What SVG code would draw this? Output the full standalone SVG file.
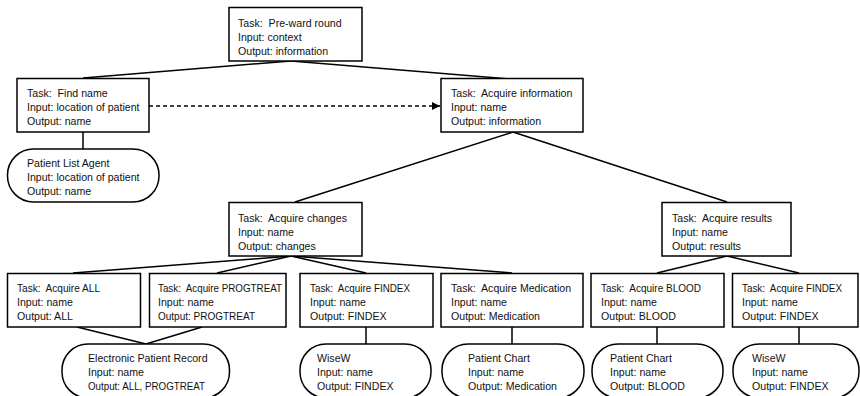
<svg xmlns="http://www.w3.org/2000/svg" width="860" height="396" viewBox="0 0 860 396">
<style>
.box{fill:#fff;stroke:#000;stroke-width:1.5}
.ag{fill:#fff;stroke:#000;stroke-width:1.5}
.c{stroke:#000;stroke-width:1.5;fill:none}
.d{stroke:#000;stroke-width:1.3;fill:none;stroke-dasharray:4 3}
text{font-family:"Liberation Sans",Arial,sans-serif;font-size:10.6px;fill:#111;white-space:pre}
</style>
<defs>
<marker id="arr" viewBox="0 0 8 8" refX="8" refY="4" markerWidth="8" markerHeight="8" markerUnits="userSpaceOnUse" orient="auto">
<path d="M0,0 L8,4 L0,8 Z" fill="#000"/>
</marker>
</defs>
<g id="connectors">
<line class="c" x1="291" y1="61" x2="83" y2="78"/>
<line class="c" x1="291" y1="61" x2="511" y2="79"/>
<line class="d" x1="149" y1="106" x2="440" y2="106" marker-end="url(#arr)"/>
<line class="c" x1="83" y1="132" x2="83" y2="149"/>
<line class="c" x1="513" y1="132" x2="295" y2="202"/>
<line class="c" x1="513" y1="132" x2="727" y2="202"/>
<line class="c" x1="291" y1="256" x2="73" y2="273"/>
<line class="c" x1="291" y1="256" x2="217" y2="273"/>
<line class="c" x1="291" y1="256" x2="366" y2="273"/>
<line class="c" x1="291" y1="256" x2="512" y2="273"/>
<line class="c" x1="727" y1="256" x2="657" y2="273"/>
<line class="c" x1="727" y1="256" x2="799" y2="273"/>
<line class="c" x1="77" y1="327" x2="146" y2="344"/>
<line class="c" x1="202" y1="327" x2="146" y2="344"/>
<line class="c" x1="366" y1="327" x2="366" y2="344"/>
<line class="c" x1="512" y1="327" x2="512" y2="344"/>
<line class="c" x1="657" y1="327" x2="657" y2="344"/>
<line class="c" x1="799" y1="327" x2="799" y2="344"/>
</g>
<g id="n-preward">
<rect class="box" x="229" y="7.5" width="133" height="53.5"/>
<text x="238" y="27">Task:  Pre-ward round</text>
<text x="238" y="41">Input: context</text>
<text x="238" y="55">Output: information</text>
</g>
<g id="n-findname">
<rect class="box" x="17" y="78.5" width="132" height="53.5"/>
<text x="27" y="97">Task:  Find name</text>
<text x="27" y="111">Input: location of patient</text>
<text x="27" y="125">Output: name</text>
</g>
<g id="n-acqinfo">
<rect class="box" x="441" y="78.5" width="142" height="53.5"/>
<text x="451" y="97">Task:  Acquire information</text>
<text x="451" y="111">Input: name</text>
<text x="451" y="125">Output: information</text>
</g>
<g id="a-patientlist">
<rect class="ag" x="7.5" y="149" width="151.5" height="53" rx="26" ry="26"/>
<text x="27" y="167">Patient List Agent</text>
<text x="27" y="181">Input: location of patient</text>
<text x="27" y="195">Output: name</text>
</g>
<g id="n-acqchanges">
<rect class="box" x="229" y="202.5" width="133" height="53.5"/>
<text x="238" y="222">Task:  Acquire changes</text>
<text x="238" y="236">Input: name</text>
<text x="238" y="250">Output: changes</text>
</g>
<g id="n-acqresults">
<rect class="box" x="662" y="202.5" width="129" height="53.5"/>
<text x="672" y="222">Task:  Acquire results</text>
<text x="672" y="236">Input: name</text>
<text x="672" y="250">Output: results</text>
</g>
<g id="n-all">
<rect class="box" x="7.5" y="273.5" width="133" height="53.5"/>
<text x="17" y="292" textLength="83" lengthAdjust="spacingAndGlyphs">Task:  Acquire ALL</text>
<text x="17" y="306">Input: name</text>
<text x="17" y="320">Output: ALL</text>
</g>
<g id="n-progtreat">
<rect class="box" x="149.5" y="273.5" width="136.5" height="53.5"/>
<text x="158" y="292" textLength="124" lengthAdjust="spacingAndGlyphs">Task:  Acquire PROGTREAT</text>
<text x="158" y="306">Input: name</text>
<text x="158" y="320" textLength="97" lengthAdjust="spacingAndGlyphs">Output: PROGTREAT</text>
</g>
<g id="n-findex1">
<rect class="box" x="300" y="273.5" width="133" height="53.5"/>
<text x="310" y="292" textLength="100" lengthAdjust="spacingAndGlyphs">Task:  Acquire FINDEX</text>
<text x="310" y="306">Input: name</text>
<text x="310" y="320">Output: FINDEX</text>
</g>
<g id="n-medication">
<rect class="box" x="441" y="273.5" width="142" height="53.5"/>
<text x="451" y="292">Task:  Acquire Medication</text>
<text x="451" y="306">Input: name</text>
<text x="451" y="320">Output: Medication</text>
</g>
<g id="n-blood">
<rect class="box" x="591" y="273.5" width="133" height="53.5"/>
<text x="601" y="292" textLength="100" lengthAdjust="spacingAndGlyphs">Task:  Acquire BLOOD</text>
<text x="601" y="306">Input: name</text>
<text x="601" y="320">Output: BLOOD</text>
</g>
<g id="n-findex2">
<rect class="box" x="732.5" y="273.5" width="125.5" height="53.5"/>
<text x="742" y="292" textLength="100" lengthAdjust="spacingAndGlyphs">Task:  Acquire FINDEX</text>
<text x="742" y="306">Input: name</text>
<text x="742" y="320">Output: FINDEX</text>
</g>
<g id="a-epr">
<rect class="ag" x="62" y="344" width="167.5" height="54" rx="26" ry="26"/>
<text x="88" y="362">Electronic Patient Record</text>
<text x="88" y="376">Input: name</text>
<text x="88" y="390" textLength="117" lengthAdjust="spacingAndGlyphs">Output: ALL, PROGTREAT</text>
</g>
<g id="a-wisew1">
<rect class="ag" x="300" y="344" width="131" height="54" rx="26" ry="26"/>
<text x="317" y="362">WiseW</text>
<text x="317" y="376">Input: name</text>
<text x="317" y="390">Output: FINDEX</text>
</g>
<g id="a-chart1">
<rect class="ag" x="442" y="344" width="142" height="54" rx="26" ry="26"/>
<text x="468" y="362">Patient Chart</text>
<text x="468" y="376">Input: name</text>
<text x="468" y="390">Output: Medication</text>
</g>
<g id="a-chart2">
<rect class="ag" x="592" y="344" width="131" height="54" rx="26" ry="26"/>
<text x="610" y="362">Patient Chart</text>
<text x="610" y="376">Input: name</text>
<text x="610" y="390">Output: BLOOD</text>
</g>
<g id="a-wisew2">
<rect class="ag" x="733" y="344" width="126" height="54" rx="26" ry="26"/>
<text x="752" y="362">WiseW</text>
<text x="752" y="376">Input: name</text>
<text x="752" y="390">Output: FINDEX</text>
</g>
</svg>
